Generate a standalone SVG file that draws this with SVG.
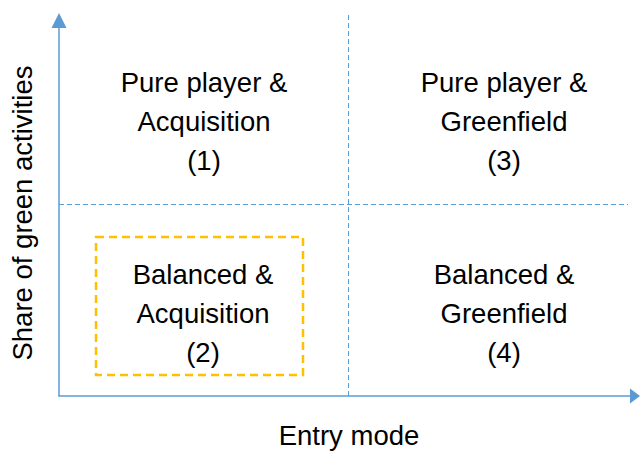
<svg xmlns="http://www.w3.org/2000/svg" width="640" height="451" viewBox="0 0 640 451">
  <style>
    .axis { stroke: #5B9BD5; stroke-width: 1.5; fill: none; }
    .grid { stroke: #5B9BD5; stroke-width: 1; stroke-dasharray: 5 3; fill: none; }
    .head { fill: #5B9BD5; }
    .lbl { font-family: "Liberation Sans", Arial, sans-serif; font-size: 27.5px; fill: #000; text-anchor: middle; }
    .hl { stroke: #FFC000; stroke-width: 2.5; stroke-dasharray: 8 5; fill: none; }
  </style>

  <!-- axes and quadrant dividers -->
  <g id="connectors">
    <line class="grid" x1="348.5" y1="15" x2="348.5" y2="396"/>
    <line class="grid" x1="59" y1="204.5" x2="628" y2="204.5"/>
    <line class="axis" x1="59" y1="396.5" x2="59" y2="26"/>
    <line class="axis" x1="58.5" y1="396" x2="632" y2="396"/>
    <polygon class="head" points="59,13 51.5,28 66.5,28"/>
    <polygon class="head" points="640,396 630,388.5 630,403.5"/>
  </g>

  <g id="q1">
    <text class="lbl" x="204" y="92">Pure player &amp;</text>
    <text class="lbl" x="204" y="131">Acquisition</text>
    <text class="lbl" x="204" y="170">(1)</text>
  </g>

  <g id="q3">
    <text class="lbl" x="504" y="92">Pure player &amp;</text>
    <text class="lbl" x="504" y="131">Greenfield</text>
    <text class="lbl" x="504" y="170">(3)</text>
  </g>

  <g id="q2">
    <rect class="hl" x="96" y="237" width="207" height="138"/>
    <text class="lbl" x="203" y="284">Balanced &amp;</text>
    <text class="lbl" x="203" y="323">Acquisition</text>
    <text class="lbl" x="203" y="362">(2)</text>
  </g>

  <g id="q4">
    <text class="lbl" x="504" y="284">Balanced &amp;</text>
    <text class="lbl" x="504" y="323">Greenfield</text>
    <text class="lbl" x="504" y="362">(4)</text>
  </g>

  <g id="x-label">
    <text class="lbl" x="349" y="445">Entry mode</text>
  </g>

  <g id="y-label">
    <text class="lbl" transform="translate(32,213) rotate(-90)">Share of green activities</text>
  </g>
</svg>
